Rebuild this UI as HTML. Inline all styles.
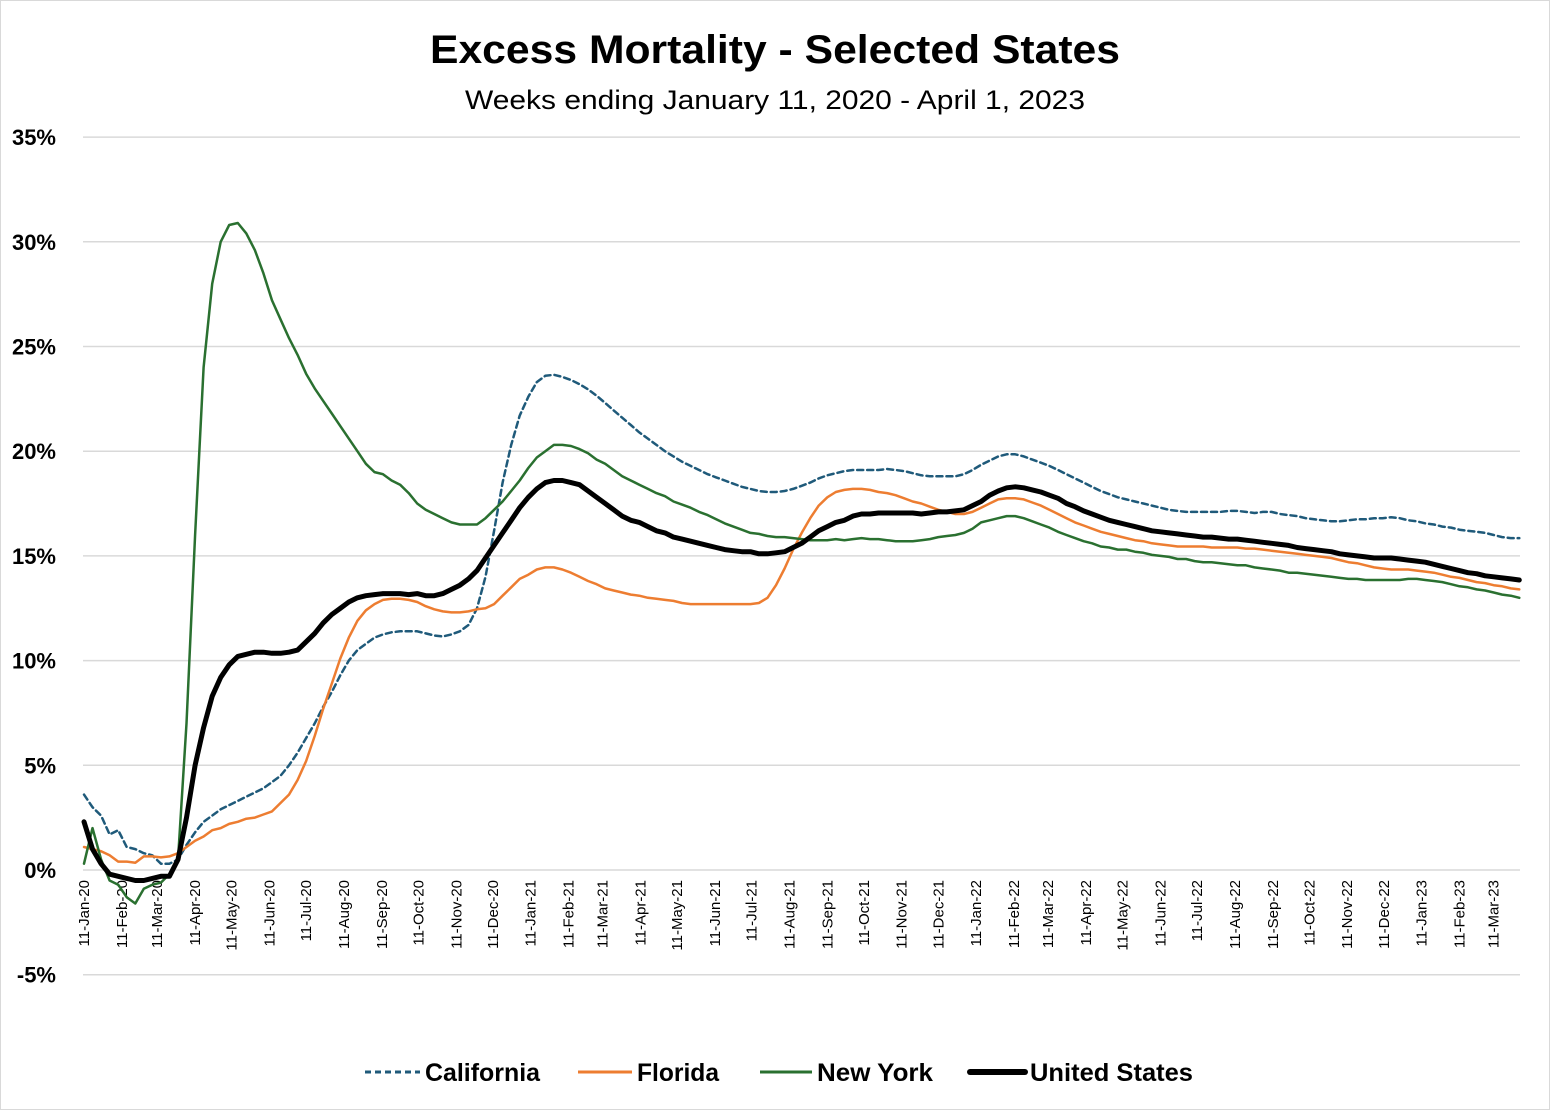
<!DOCTYPE html>
<html><head><meta charset="utf-8"><style>
html,body{margin:0;padding:0;background:#fff}
svg{display:block}
text{font-family:"Liberation Sans",sans-serif}
</style></head><body>
<svg id="chart" width="1550" height="1110" viewBox="0 0 1550 1110" xmlns="http://www.w3.org/2000/svg">
<rect x="0.5" y="0.5" width="1549" height="1109" fill="#fff" stroke="#d9d9d9"/>
<text x="775" y="63" text-anchor="middle" font-size="40" font-weight="bold" textLength="690" lengthAdjust="spacingAndGlyphs">Excess Mortality - Selected States</text>
<text x="775" y="109" text-anchor="middle" font-size="27" textLength="620" lengthAdjust="spacingAndGlyphs">Weeks ending January 11, 2020 - April 1, 2023</text>
<g id="grid"></g><g id="yticks"></g><g id="xticks"></g><g id="series"></g>
<g>
<g><line x1="365" y1="1072" x2="420" y2="1072" stroke="#1f5a7a" stroke-width="3" stroke-dasharray="6,4"/><text x="425" y="1081" font-size="25" font-weight="bold" textLength="115" lengthAdjust="spacingAndGlyphs">California</text></g>
<g><line x1="578" y1="1072" x2="632" y2="1072" stroke="#ed7d31" stroke-width="3"/><text x="637" y="1081" font-size="25" font-weight="bold" textLength="82" lengthAdjust="spacingAndGlyphs">Florida</text></g>
<g><line x1="760" y1="1072" x2="812" y2="1072" stroke="#2a7030" stroke-width="3"/><text x="817" y="1081" font-size="25" font-weight="bold" textLength="116" lengthAdjust="spacingAndGlyphs">New York</text></g>
<g><line x1="970" y1="1072" x2="1025" y2="1072" stroke="#000" stroke-width="6" stroke-linecap="round"/><text x="1030" y="1081" font-size="25" font-weight="bold" textLength="163" lengthAdjust="spacingAndGlyphs">United States</text></g>
</g>
</svg>
<script>
const yTicks=[-5,0,5,10,15,20,25,30,35];
const monthNames=["Jan","Feb","Mar","Apr","May","Jun","Jul","Aug","Sep","Oct","Nov","Dec"];
const california=[3.6,3.0,2.6,1.7,1.9,1.1,1.0,0.8,0.7,0.3,0.3,0.5,1.2,1.8,2.3,2.6,2.9,3.1,3.3,3.5,3.7,3.9,4.2,4.5,5.0,5.6,6.3,7.0,7.8,8.5,9.3,10.0,10.5,10.8,11.1,11.25,11.35,11.4,11.4,11.4,11.3,11.2,11.15,11.25,11.4,11.7,12.5,14.0,16.2,18.5,20.3,21.7,22.6,23.3,23.6,23.65,23.55,23.4,23.2,22.95,22.65,22.3,21.95,21.6,21.25,20.9,20.6,20.3,20.0,19.75,19.5,19.3,19.1,18.9,18.75,18.6,18.45,18.3,18.2,18.1,18.05,18.05,18.1,18.2,18.35,18.5,18.7,18.85,18.95,19.05,19.1,19.1,19.1,19.1,19.15,19.1,19.05,18.95,18.85,18.8,18.8,18.8,18.8,18.9,19.1,19.35,19.55,19.75,19.85,19.85,19.75,19.6,19.45,19.3,19.1,18.9,18.7,18.5,18.3,18.1,17.95,17.8,17.7,17.6,17.5,17.4,17.3,17.2,17.15,17.1,17.1,17.1,17.1,17.1,17.15,17.15,17.1,17.05,17.1,17.1,17.0,16.95,16.9,16.8,16.75,16.7,16.65,16.65,16.7,16.75,16.75,16.8,16.8,16.85,16.8,16.7,16.65,16.55,16.5,16.4,16.35,16.25,16.2,16.15,16.1,16.0,15.9,15.85,15.85];
const florida=[1.1,1.0,0.9,0.7,0.4,0.4,0.35,0.65,0.65,0.6,0.65,0.8,1.1,1.4,1.6,1.9,2.0,2.2,2.3,2.45,2.5,2.65,2.8,3.2,3.6,4.3,5.2,6.4,7.7,8.9,10.1,11.1,11.9,12.4,12.7,12.9,12.95,12.95,12.9,12.8,12.6,12.45,12.35,12.3,12.3,12.35,12.45,12.5,12.7,13.1,13.5,13.9,14.1,14.35,14.45,14.45,14.35,14.2,14.0,13.8,13.65,13.45,13.35,13.25,13.15,13.1,13.0,12.95,12.9,12.85,12.75,12.7,12.7,12.7,12.7,12.7,12.7,12.7,12.7,12.75,13.0,13.6,14.4,15.3,16.1,16.8,17.4,17.8,18.05,18.15,18.2,18.2,18.15,18.05,18.0,17.9,17.75,17.6,17.5,17.35,17.2,17.1,17.0,17.0,17.1,17.3,17.5,17.7,17.75,17.75,17.7,17.55,17.4,17.2,17.0,16.8,16.6,16.45,16.3,16.15,16.05,15.95,15.85,15.75,15.7,15.6,15.55,15.5,15.45,15.45,15.45,15.45,15.4,15.4,15.4,15.4,15.35,15.35,15.3,15.25,15.2,15.15,15.1,15.05,15.0,14.95,14.9,14.8,14.7,14.65,14.55,14.45,14.4,14.35,14.35,14.35,14.3,14.25,14.2,14.1,14.0,13.95,13.85,13.75,13.7,13.6,13.55,13.45,13.4];
const newYork=[0.3,2.0,0.5,-0.5,-0.7,-1.3,-1.6,-0.9,-0.7,-0.6,-0.2,0.5,7.0,16.0,24.0,28.0,30.0,30.8,30.9,30.4,29.6,28.5,27.2,26.3,25.4,24.6,23.7,23.0,22.4,21.8,21.2,20.6,20.0,19.4,19.0,18.9,18.6,18.4,18.0,17.5,17.2,17.0,16.8,16.6,16.5,16.5,16.5,16.8,17.2,17.6,18.1,18.6,19.2,19.7,20.0,20.3,20.3,20.25,20.1,19.9,19.6,19.4,19.1,18.8,18.6,18.4,18.2,18.0,17.85,17.6,17.45,17.3,17.1,16.95,16.75,16.55,16.4,16.25,16.1,16.05,15.95,15.9,15.9,15.85,15.8,15.75,15.75,15.75,15.8,15.75,15.8,15.85,15.8,15.8,15.75,15.7,15.7,15.7,15.75,15.8,15.9,15.95,16.0,16.1,16.3,16.6,16.7,16.8,16.9,16.9,16.8,16.65,16.5,16.35,16.15,16.0,15.85,15.7,15.6,15.45,15.4,15.3,15.3,15.2,15.15,15.05,15.0,14.95,14.85,14.85,14.75,14.7,14.7,14.65,14.6,14.55,14.55,14.45,14.4,14.35,14.3,14.2,14.2,14.15,14.1,14.05,14.0,13.95,13.9,13.9,13.85,13.85,13.85,13.85,13.85,13.9,13.9,13.85,13.8,13.75,13.65,13.55,13.5,13.4,13.35,13.25,13.15,13.1,13.0];
const unitedStates=[2.3,1.0,0.3,-0.2,-0.3,-0.4,-0.5,-0.5,-0.4,-0.3,-0.3,0.5,2.5,5.0,6.8,8.3,9.2,9.8,10.2,10.3,10.4,10.4,10.35,10.35,10.4,10.5,10.9,11.3,11.8,12.2,12.5,12.8,13.0,13.1,13.15,13.2,13.2,13.2,13.15,13.2,13.1,13.1,13.2,13.4,13.6,13.9,14.3,14.9,15.5,16.1,16.7,17.3,17.8,18.2,18.5,18.6,18.6,18.5,18.4,18.1,17.8,17.5,17.2,16.9,16.7,16.6,16.4,16.2,16.1,15.9,15.8,15.7,15.6,15.5,15.4,15.3,15.25,15.2,15.2,15.1,15.1,15.15,15.2,15.4,15.6,15.9,16.2,16.4,16.6,16.7,16.9,17.0,17.0,17.05,17.05,17.05,17.05,17.05,17.0,17.05,17.1,17.1,17.15,17.2,17.4,17.6,17.9,18.1,18.25,18.3,18.25,18.15,18.05,17.9,17.75,17.5,17.35,17.15,17.0,16.85,16.7,16.6,16.5,16.4,16.3,16.2,16.15,16.1,16.05,16.0,15.95,15.9,15.9,15.85,15.8,15.8,15.75,15.7,15.65,15.6,15.55,15.5,15.4,15.35,15.3,15.25,15.2,15.1,15.05,15.0,14.95,14.9,14.9,14.9,14.85,14.8,14.75,14.7,14.6,14.5,14.4,14.3,14.2,14.15,14.05,14.0,13.95,13.9,13.85];

const NS="http://www.w3.org/2000/svg";
const start=Date.UTC(2020,0,11), DAY=86400000;
const X0=84, PXD=1.2205, Y0=870, PXV=20.94, XL=83, XR=1520;
function xDays(d){return X0+d*PXD;}
function xWeek(i){return xDays(i*7);}
function yVal(v){return Y0-v*PXV;}
function mk(tag,attrs,parent){const e=document.createElementNS(NS,tag);for(const k in attrs)e.setAttribute(k,attrs[k]);parent.appendChild(e);return e;}

const grid=document.getElementById('grid'), yt=document.getElementById('yticks'), xt=document.getElementById('xticks'), ser=document.getElementById('series');
yTicks.forEach(v=>{
  const l=mk('line',{x1:XL,x2:XR,y1:yVal(v),y2:yVal(v),stroke:'#d9d9d9','stroke-width':1.5},grid);
  
  
  const t=mk('text',{x:56,y:yVal(v)+8,'text-anchor':'end','font-size':22,'font-weight':'bold'},yt);
  t.textContent=v+'%';
  
  
});
for(let m=0;m<39;m++){
  const yr=2020+Math.floor(m/12), mo=m%12;
  const d=(Date.UTC(yr,mo,11)-start)/DAY;
  const x=xDays(d);
  const t=mk('text',{x:0,y:0,'text-anchor':'end','font-size':15,transform:`translate(${x+5},880) rotate(-90)`},xt);
  t.textContent='11-'+monthNames[mo]+'-'+String(yr).slice(2);
  
  
}
function draw(arr,color,w,dash,name){
  const pts=arr.map((v,i)=>xWeek(i).toFixed(1)+','+yVal(v).toFixed(1)).join(' ');
  const p=mk('polyline',{points:pts,fill:'none',stroke:color,'stroke-width':w,'stroke-linejoin':'round','stroke-linecap':'round'},ser);
  if(dash)p.setAttribute('stroke-dasharray',dash);
  
  
}
draw(california,'#1f5a7a',2.5,'6,4','line-california');
draw(florida,'#ed7d31',2.5,null,'line-florida');
draw(newYork,'#2a7030',2.5,null,'line-new-york');
draw(unitedStates,'#000',5,null,'line-united-states');
</script>
</body></html>
